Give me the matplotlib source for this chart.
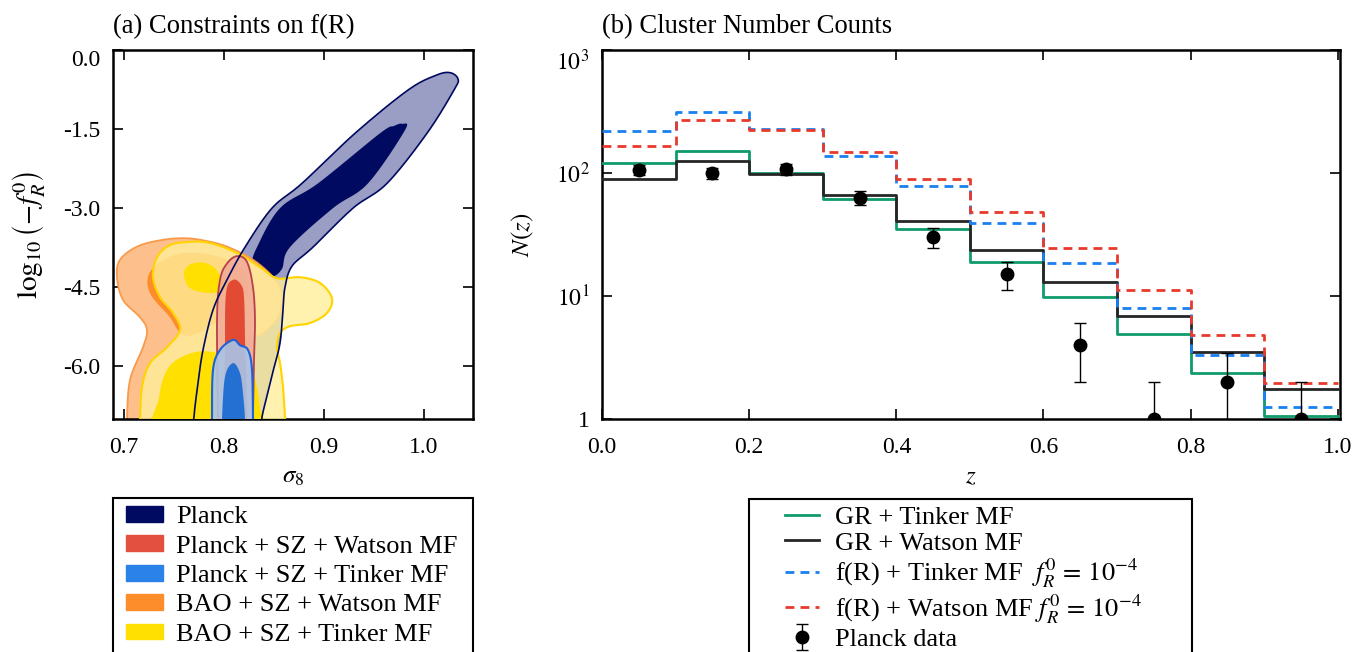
import numpy as np
import matplotlib
matplotlib.use("Agg")
import matplotlib.pyplot as plt
from matplotlib.patches import Patch
from matplotlib.lines import Line2D
from matplotlib.container import ErrorbarContainer
from matplotlib.legend_handler import HandlerPatch, HandlerLine2D, HandlerErrorbar
from matplotlib.ticker import FixedLocator, FixedFormatter, FormatStrFormatter

plt.rcParams['font.family'] = 'serif'
plt.rcParams['font.serif'] = ['Liberation Serif', 'DejaVu Serif']
plt.rcParams['mathtext.fontset'] = 'stix'
plt.rcParams['font.size'] = 16
plt.rcParams['axes.unicode_minus'] = False

# ---- panel (b) data: number counts per redshift bin ----
z_edges = [0.0, 0.1, 0.2, 0.3, 0.4, 0.5, 0.6, 0.7, 0.8, 0.9, 1.0]
gr_tinker = [120, 150, 100, 62, 35, 19, 9.8, 4.9, 2.35, 1.05]
gr_watson = [89, 125, 98, 66, 41, 23.6, 13, 6.9, 3.5, 1.75]
fr_tinker = [220, 313, 228, 137, 78, 39, 18.6, 8.0, 3.3, 1.25]
fr_watson = [166, 270, 224, 148, 89, 48, 24.5, 11.2, 4.8, 1.96]
planck_z = [0.05, 0.15, 0.25, 0.35, 0.45, 0.55, 0.65, 0.75, 0.85, 0.95]
planck_n = [106, 100, 107, 63, 30, 15, 4, 1, 2, 1]
planck_err = np.sqrt(planck_n)

# ---- panel (a) data: contour outlines (sigma8, log10(-fR0)) ----
planck_outer = [(0.770, -7.4), (0.770, -6.96), (0.774, -6.32), (0.779, -5.69), (0.789, -4.93),
                (0.803, -4.36), (0.821, -3.74), (0.848, -3.0), (0.878, -2.53), (0.931, -1.58),
                (0.984, -0.76), (1.012, -0.48), (1.026, -0.43), (1.034, -0.55), (1.030, -0.76),
                (1.003, -1.58), (0.963, -2.53), (0.929, -3.0), (0.889, -3.74), (0.868, -4.10),
                (0.861, -4.50), (0.859, -4.93), (0.856, -5.56), (0.849, -6.10), (0.838, -6.96),
                (0.836, -7.4)]
planck_inner = [(0.978, -1.40), (0.981, -1.52), (0.944, -2.53), (0.909, -3.0), (0.866, -3.74),
                (0.858, -4.15), (0.848, -4.30), (0.836, -4.22), (0.828, -4.08), (0.833, -3.74),
                (0.856, -3.0), (0.894, -2.53), (0.956, -1.58), (0.970, -1.44)]
orange_outer = [(0.703, -7.4), (0.703, -7.0), (0.706, -6.26), (0.719, -5.64), (0.723, -5.31),
                (0.716, -5.07), (0.699, -4.74), (0.693, -4.31), (0.696, -3.98), (0.713, -3.73),
                (0.736, -3.61), (0.759, -3.57), (0.779, -3.61), (0.803, -3.73), (0.829, -3.98),
                (0.849, -4.31), (0.858, -4.62), (0.856, -4.99), (0.843, -5.31), (0.826, -5.50),
                (0.816, -5.69), (0.813, -6.02), (0.814, -6.51), (0.816, -7.0), (0.816, -7.4)]
orange_inner = [(0.736, -4.02), (0.760, -3.85), (0.790, -3.90), (0.815, -4.10), (0.825, -4.50),
                (0.815, -4.90), (0.790, -5.20), (0.770, -5.40), (0.757, -5.38), (0.745, -5.05),
                (0.727, -4.65), (0.724, -4.30)]
yellow_outer = [(0.716, -7.4), (0.716, -7.0), (0.718, -6.39), (0.726, -5.94), (0.743, -5.64),
                (0.756, -5.31), (0.749, -4.99), (0.736, -4.69), (0.729, -4.31), (0.733, -3.93),
                (0.746, -3.70), (0.766, -3.64), (0.786, -3.66), (0.813, -3.85), (0.836, -4.12),
                (0.853, -4.33), (0.876, -4.31), (0.896, -4.42), (0.908, -4.71), (0.903, -4.99),
                (0.886, -5.18), (0.866, -5.24), (0.856, -5.37), (0.853, -5.64), (0.856, -5.94),
                (0.859, -6.39), (0.861, -7.0), (0.861, -7.4)]
yellow_inner_top = [(0.760, -4.25), (0.765, -4.08), (0.778, -4.03), (0.790, -4.12), (0.797, -4.30),
                    (0.808, -4.45), (0.800, -4.58), (0.780, -4.60), (0.765, -4.50)]
yellow_inner_low = [(0.733, -7.4), (0.735, -6.6), (0.742, -6.1), (0.755, -5.85), (0.775, -5.72),
                    (0.795, -5.75), (0.815, -5.85), (0.830, -6.2), (0.836, -6.8), (0.837, -7.4)]
red_outer = [(0.794, -7.4), (0.794, -7.0), (0.793, -5.12), (0.796, -4.36), (0.803, -4.05),
             (0.813, -3.91), (0.823, -4.02), (0.829, -4.50), (0.831, -5.12), (0.830, -5.88),
             (0.829, -7.0), (0.829, -7.4)]
red_inner = [(0.801, -7.4), (0.801, -5.75), (0.802, -4.62), (0.809, -4.36), (0.817, -4.45),
             (0.820, -4.69), (0.821, -5.50), (0.822, -7.4)]
blue_outer = [(0.788, -7.4), (0.788, -7.0), (0.789, -6.07), (0.796, -5.69), (0.809, -5.50),
              (0.816, -5.60), (0.824, -5.69), (0.828, -6.07), (0.829, -7.0), (0.829, -7.4)]
blue_inner = [(0.798, -7.4), (0.798, -7.0), (0.801, -6.20), (0.809, -5.94), (0.816, -6.13),
              (0.819, -6.51), (0.821, -7.0), (0.821, -7.4)]


def smooth(pts, n=12):
    # closed Catmull-Rom curve through the outline points
    p = np.asarray(pts, float)
    m = len(p)
    out = []
    t = np.linspace(0, 1, n, endpoint=False)[:, None]
    for i in range(m):
        p0, p1, p2, p3 = p[i - 1], p[i], p[(i + 1) % m], p[(i + 2) % m]
        seg = 0.5 * ((2 * p1) + (-p0 + p2) * t + (2 * p0 - 5 * p1 + 4 * p2 - p3) * t ** 2
                     + (-p0 + 3 * p1 - 3 * p2 + p3) * t ** 3)
        out.append(seg)
    out = np.vstack(out)
    return out[:, 0], out[:, 1]


def blob(ax, pts, fc, ec=None, alpha=1.0, lw=1.0, z=1):
    x, y = smooth(pts)
    ax.fill(x, y, color=fc, alpha=alpha, lw=0, zorder=z)
    if ec is not None:
        ax.plot(np.append(x, x[0]), np.append(y, y[0]), color=ec, lw=lw, zorder=z + 0.1)


fig = plt.figure(figsize=(13.64, 6.52), dpi=100)
ax1 = fig.add_axes([113 / 1364, 233 / 652, 360 / 1364, 369 / 652])
ax2 = fig.add_axes([602 / 1364, 233 / 652, 738 / 1364, 369 / 652])

# ---------------- panel (a) ----------------
blob(ax1, planck_outer, '#9a9ec4', z=1)
blob(ax1, planck_inner, '#000a60', z=1.2)
blob(ax1, orange_outer, '#fdc08c', ec='#f99a4a', lw=1.3, z=2)
blob(ax1, orange_inner, '#fd8d2a', z=2.2)
blob(ax1, yellow_outer, '#ffee9a', ec='#ffd400', alpha=0.8, lw=1.5, z=3)
blob(ax1, yellow_inner_top, '#ffe000', z=3.2)
blob(ax1, yellow_inner_low, '#ffe000', z=3.2)
blob(ax1, red_outer, '#f2a897', ec='#b8404a', alpha=0.85, lw=1.3, z=4)
blob(ax1, red_inner, '#e34a33', z=4.2)
blob(ax1, blue_outer, '#a9c5e9', ec='#1d62d6', alpha=0.9, lw=1.5, z=5)
blob(ax1, blue_inner, '#2470d2', z=5.2)
px, py = smooth(planck_outer)
ax1.plot(np.append(px, px[0]), np.append(py, py[0]), color='#000a60', lw=1.2, zorder=6)

ax1.set_xlim(0.689, 1.049)
ax1.set_ylim(-7.0, 0.0)
ax1.set_xticks([0.7, 0.8, 0.9, 1.0])
ax1.set_yticks([0.0, -1.5, -3.0, -4.5, -6.0])
ax1.xaxis.set_major_formatter(FormatStrFormatter('%.1f'))
ax1.yaxis.set_major_formatter(FormatStrFormatter('%.1f'))
ax1.set_xlabel(r'$\sigma_8$', fontsize=18, labelpad=6)
ax1.set_ylabel(r'$\log_{10}\left(-f_R^0\right)$', fontsize=21, labelpad=12)
ax1.set_title('(a) Constraints on f(R)', loc='left', pad=12)

handles_a = [Patch(color='#000a60', label='Planck'),
             Patch(color='#e4503f', label='Planck + SZ + Watson MF'),
             Patch(color='#2b83ea', label='Planck + SZ + Tinker MF'),
             Patch(color='#fd8d2a', label='BAO + SZ + Watson MF'),
             Patch(color='#ffe000', label='BAO + SZ + Tinker MF')]
leg1 = ax1.legend(handles=handles_a, loc='upper left', bbox_to_anchor=(0, -0.214, 1, 0),
                  mode='expand', borderaxespad=0, fancybox=False, framealpha=1,
                  edgecolor='black', fontsize=19, handlelength=1.6, handleheight=0.55,
                  labelspacing=0.27, borderpad=0.3, handletextpad=0.5,
                  handler_map={Patch: HandlerPatch(xpad=0.2)})
leg1.get_frame().set_linewidth(1.5)

# ---------------- panel (b) ----------------
dash = (0, (3.2, 2.2))


def hist_line(values, **kw):
    # post-step line through the bin edges, last value repeated to close the final bin
    return ax2.step(z_edges, list(values) + [values[-1]], where='post', lw=2, **kw)


hist_line(gr_tinker, color='#0f9b6a', label='GR + Tinker MF', zorder=3)
hist_line(gr_watson, color='#262626', label='GR + Watson MF', zorder=4)
hist_line(fr_tinker, color='#1a80f0', ls=dash,
          label=r'f(R) + Tinker MF  $f_R^0\,=\,10^{-4}$', zorder=5)
hist_line(fr_watson, color='#e83a2c', ls=dash,
          label=r'f(R) + Watson MF $f_R^0\,=\,10^{-4}$', zorder=5)
ax2.errorbar(planck_z, planck_n, yerr=planck_err, fmt='o', color='black', ms=9,
             capsize=4, elinewidth=1, capthick=1, label='Planck data', zorder=6)

ax2.set_yscale('log')
ax2.set_xlim(0.0, 1.003)
ax2.set_ylim(1, 1000)
ax2.yaxis.set_major_locator(FixedLocator([1, 10, 100, 1000]))
ax2.yaxis.set_major_formatter(FixedFormatter(['1', r'$10^1$', r'$10^2$', r'$10^3$']))
ax2.yaxis.set_minor_locator(FixedLocator([]))
ax2.set_xticks([0.0, 0.2, 0.4, 0.6, 0.8, 1.0])
ax2.xaxis.set_major_formatter(FormatStrFormatter('%.1f'))
ax2.set_xlabel(r'$z$', fontsize=18, labelpad=6)
ax2.set_ylabel(r'$N(z)$', fontsize=18, labelpad=14)
ax2.set_title('(b) Cluster Number Counts', loc='left', pad=12)

leg2 = ax2.legend(loc='upper left', bbox_to_anchor=(0.1992, -0.217, 0.6003, 0), mode='expand',
                  borderaxespad=0, fancybox=False, framealpha=1, edgecolor='black',
                  fontsize=19, handlelength=2.42, labelspacing=0.08, borderpad=0.25,
                  handletextpad=0.57,
                  handler_map={Line2D: HandlerLine2D(xpad=1.1),
                               ErrorbarContainer: HandlerErrorbar(xpad=1.1)})
leg2.get_frame().set_linewidth(1.5)

for ax in (ax1, ax2):
    for s in ax.spines.values():
        s.set_linewidth(1.8)
    ax.tick_params(which='both', direction='in', top=True, right=True,
                   length=7, width=1.2, labelsize=17)
    ax.tick_params(axis='x', pad=13)
    ax.tick_params(axis='y', pad=9)

ax1.get_yticklabels()[0].set_va('top')
ax2.get_yticklabels()[-1].set_va('top')

fig.savefig('out.png', dpi=100)
